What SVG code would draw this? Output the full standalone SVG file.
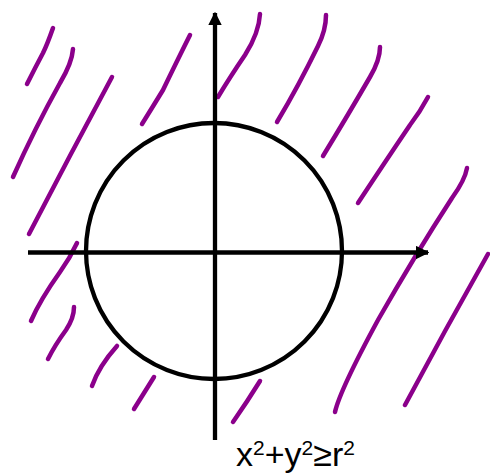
<svg xmlns="http://www.w3.org/2000/svg" width="490" height="476" viewBox="0 0 490 476">
<style>
.h{fill:none;stroke:#8b008b;stroke-width:4.5;stroke-linecap:round;stroke-linejoin:round}
.k{fill:none;stroke:#000;stroke-width:4.3}
.t{font-family:"Liberation Sans",Arial,sans-serif;font-size:34px;fill:#000}
</style>
<defs>
<marker id="ah" viewBox="0 0 10 10" refX="9" refY="5" markerWidth="3.1" markerHeight="3.2" orient="auto" markerUnits="strokeWidth">
<path d="M0,0 L10,5 L0,10 z" fill="#000"/>
</marker>
</defs>
<g id="hatching">
<path class="h" d="M53,28 Q47,45 43,53 Q35,68 27,84"/>
<path class="h" d="M73,49 Q72,63 60,83 Q35,128 13,177"/>
<path class="h" d="M112,77 Q70,155 29,234"/>
<path class="h" d="M190,35 Q175,65 163,90 Q152,108 142,124"/>
<path class="h" d="M260,14 Q259,33 245,55 Q230,77 218,97"/>
<path class="h" d="M326,15 Q326,30 318,46 Q298,87 277,122"/>
<path class="h" d="M380,47 Q380,60 370,77 Q348,115 323,156"/>
<path class="h" d="M428,97 Q420,112 410,125 Q385,162 358,203"/>
<path class="h" d="M467,168 Q465,180 452,198 Q415,255 378,320 Q340,390 335,412"/>
<path class="h" d="M488,254 Q445,330 405,405"/>
<path class="h" d="M260,381 Q247,402 233,422"/>
<path class="h" d="M77,243 Q70,258 60,272 Q40,300 31,321"/>
<path class="h" d="M74,307 Q74,318 66,330 Q55,345 48,359"/>
<path class="h" d="M117,346 Q99,366 92,386"/>
<path class="h" d="M154,377 Q144,393 134,409"/>
</g>
<g id="circle">
<circle class="k" cx="214" cy="251" r="128"/>
</g>
<g id="axes">
<line class="k" x1="28" y1="252.5" x2="428" y2="252.5" marker-end="url(#ah)"/>
<line class="k" x1="215" y1="440" x2="215" y2="13" marker-end="url(#ah)"/>
</g>
<g id="label">
<text class="t" x="236" y="466">x<tspan font-size="21" dy="-11">2</tspan><tspan dy="11">+y</tspan><tspan font-size="21" dy="-11">2</tspan><tspan dy="11">≥r</tspan><tspan font-size="21" dy="-11">2</tspan></text>
</g>
</svg>
